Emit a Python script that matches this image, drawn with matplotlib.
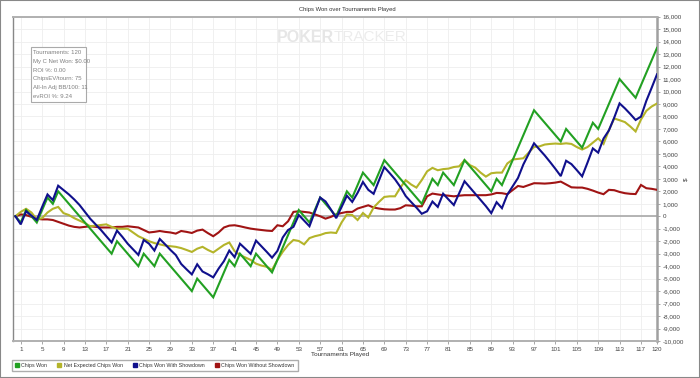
import matplotlib.pyplot as plt
from matplotlib.lines import Line2D
from matplotlib.patches import Rectangle
from matplotlib.ticker import FuncFormatter

# tournament index (0 = starting point)
tournaments = list(range(0, 121))

chips_won = [
    0, -500, 500, 0, -500, 500, 1500, 1000, 2000, 1500,
    1000, 500, 0, -500, -1000, -1500, -2000, -2500, -3000, -2000,
    -2500, -3000, -3500, -4000, -3000, -3500, -4000, -3000, -3500, -4000,
    -4500, -5000, -5500, -6000, -5000, -5500, -6000, -6500, -5500, -4500,
    -3500, -4000, -3000, -3500, -4000, -3000, -3500, -4000, -4500, -3500,
    -2500, -1500, -500, 500, 0, -500, 500, 1500, 1000, 500,
    0, 1000, 2000, 1500, 2500, 3500, 3000, 2500, 3500, 4500,
    4000, 3500, 3000, 2500, 2000, 1500, 1000, 2000, 3000, 2500,
    3500, 3000, 2500, 3500, 4500, 4000, 3500, 3000, 2500, 2000,
    3000, 2500, 3500, 4500, 5500, 6500, 7500, 8500, 8000, 7500,
    7000, 6500, 6000, 7000, 6500, 6000, 5500, 6500, 7500, 7000,
    8000, 9000, 10000, 11000, 10500, 10000, 9500, 10500, 11500, 12500,
    13500,
]

net_expected = [
    0, 350, 600, 300, -250, -150, 300, 600, 750, 250,
    100, -150, -350, -550, -800, -750, -700, -650, -850, -1000,
    -1000, -1000, -1300, -1600, -1800, -2000, -2150, -2250, -2350, -2400,
    -2450, -2550, -2700, -2860, -2600, -2450, -2700, -2900, -2600, -2300,
    -2100, -2800, -3100, -3300, -3500, -3800, -3950, -4050, -4300, -3500,
    -2850, -2300, -1900, -1980, -2250, -1750, -1600, -1500, -1350, -1300,
    -1340, -500, 150, 100, -300, 260, -100, 700, 1150, 1550,
    1600, 1600, 2300, 2890, 2550, 2300, 2900, 3600, 3880, 3690,
    3780, 3820, 3950, 4000, 4500, 4100, 3900, 3500, 3180, 3450,
    3500, 3500, 4230, 4550, 4600, 4650, 5100, 5560, 5600, 5750,
    5800, 5830, 5800, 5850, 5800, 5550, 5350, 5550, 5900, 6250,
    5800, 6900, 7840, 7700, 7550, 7200, 6800, 7750, 8450, 8800,
    9040,
]

with_showdown = [
    0, -650, 400, 50, -300, 750, 1750, 1300, 2450, 2100,
    1750, 1350, 900, 350, -200, -650, -1100, -1600, -2100, -1150,
    -1650, -2200, -2650, -3100, -1900, -2200, -2750, -1820, -2250, -2700,
    -3110, -3820, -4250, -4660, -3850, -4430, -4650, -4900, -4200, -3600,
    -2750, -3280, -2200, -2600, -3010, -1950, -2400, -2850, -3320, -2780,
    -1700, -1100, -850, 100, -350, -800, 350, 1500, 1190, 550,
    -150, 740, 1650, 1150, 1880, 2750, 2120, 1800, 2880, 3940,
    3460, 2960, 2350, 1620, 1150, 700, 200, 400, 1180, 750,
    1810, 1350, 900, 1850, 2810, 2310, 1810, 1310, 810, 250,
    1130, 650, 1730, 2400, 3070, 4150, 5000, 5850, 5360, 4880,
    4350, 3800, 3220, 4450, 4180, 3700, 3200, 4300, 5440, 5100,
    6230, 6880, 7910, 9050, 8650, 8200, 7720, 7990, 9250, 10300,
    11380,
]

without_showdown = [
    0, 150, 100, -50, -200, -250, -250, -300, -450, -600,
    -750, -850, -900, -850, -800, -850, -900, -900, -900, -850,
    -850, -800, -850, -900, -1100, -1300, -1250, -1180, -1250, -1300,
    -1390, -1180, -1250, -1340, -1150, -1070, -1350, -1600, -1300, -900,
    -750, -720, -800, -900, -990, -1050, -1100, -1150, -1180, -720,
    -800, -400, 350, 400, 350, 300, 150, 0, -190, -50,
    150, 260, 350, 350, 620, 750, 880, 700, 620, 560,
    540, 540, 650, 880, 850, 800, 800, 1600, 1820, 1750,
    1690, 1650, 1600, 1650, 1690, 1690, 1690, 1690, 1690, 1750,
    1870, 1850, 1770, 2100, 2430, 2350, 2500, 2650, 2640, 2620,
    2650, 2700, 2780, 2550, 2320, 2300, 2300, 2200, 2060, 1900,
    1770, 2120, 2090, 1950, 1850, 1800, 1780, 2510, 2250, 2200,
    2120,
]

series_names = ['Chips Won', 'Net Expected Chips Won',
                'Chips Won With Showdown', 'Chips Won Without Showdown']
series_colors = ['#22a022', '#b4b42a', '#10108c', '#a01414']

x_ticks = list(range(1, 118, 4)) + [120]
y_ticks = list(range(-10000, 16001, 1000))

stats_lines = ['Tournaments: 120', 'My C Net Won: $0.00', 'ROI %: 0.00',
               'ChipsEV/tourn: 75', 'All-In Adj BB/100: 11', 'evROI %: 9.24']

plt.rcParams['font.family'] = ['Liberation Sans', 'DejaVu Sans']
narrow = ['Liberation Sans Narrow', 'Liberation Sans', 'DejaVu Sans']

W, H = 700, 378
fig = plt.figure(figsize=(W / 100, H / 100), dpi=100)
ax = fig.add_axes([13 / W, 1 - 341 / H, (657 - 13) / W, (341 - 16.7) / H])

all_series = [chips_won, net_expected, with_showdown, without_showdown]
# draw order: red and olive under the green/blue pair
for idx in [3, 1, 0, 2]:
    ax.plot(tournaments, all_series[idx], color=series_colors[idx], lw=1.5,
            solid_joinstyle='miter', zorder=3)

ax.axhline(0, color='#a8a8a8', lw=1.2, zorder=2)

ax.set_xlim(-0.45, 120.0)
ax.set_ylim(-10000, 16000)
ax.set_xticks(x_ticks)
ax.set_yticks(y_ticks)
ax.yaxis.tick_right()
ax.yaxis.set_major_formatter(FuncFormatter(lambda v, p: f'{int(v):,}'))
ax.grid(True, color='#eeeeee', lw=0.6)
ax.set_axisbelow(True)
ax.tick_params(labelsize=4.5, labelcolor='#444444', color='#999999',
               length=2.5, width=0.6, pad=1.5)

ax.spines['left'].set_color('#888888')
ax.spines['left'].set_linewidth(1.0)
ax.spines['right'].set_color('#a0a0a0')
ax.spines['right'].set_linewidth(1.8)
ax.spines['top'].set_color('#b0b0b0')
ax.spines['top'].set_linewidth(1.4)
ax.spines['bottom'].set_color('#b0b0b0')
ax.spines['bottom'].set_linewidth(1.4)

# titles / labels
fig.text(347 / W, 1 - 9.5 / H, 'Chips Won over Tournaments Played',
         ha='center', va='center', fontsize=4.2, color='#333333', family=narrow)
fig.text(340 / W, 1 - 354.5 / H, 'Tournaments Played',
         ha='center', va='center', fontsize=4.6, color='#333333')
fig.text(686 / W, 1 - 179 / H, '$', ha='center', va='center',
         fontsize=4.6, color='#333333', rotation=90)

# watermark
fig.text(334 / W, 1 - 37 / H, 'POKER', ha='right', va='center',
         fontsize=11.5, weight='bold', color='#e6e6e6')
fig.text(334 / W, 1 - 37 / H, 'TRACKER', ha='left', va='center',
         fontsize=11.0, color='#ececec', family=narrow)

# stats box
fig.patches.append(Rectangle((30.7 / W, 1 - 101.7 / H), 55 / W, 54.4 / H,
                             transform=fig.transFigure, fill=True,
                             facecolor='white', edgecolor='#aaaaaa', lw=0.8,
                             zorder=5))
for i, line in enumerate(stats_lines):
    fig.text(33 / W, 1 - (52.7 + i * 8.7) / H, line, ha='left', va='center',
             fontsize=4.3, color='#808080', zorder=6, family=narrow)

# legend
handles = [Line2D([], [], marker='s', ls='none', color=c, markersize=3)
           for c in series_colors]
fig.legend(handles, series_names, loc='lower left',
           bbox_to_anchor=(12.3 / W, 1 - 371 / H), borderaxespad=0, ncol=4,
           prop={'family': narrow, 'size': 3.8},
           frameon=True, fancybox=False, edgecolor='#999999',
           handlelength=0.6, handletextpad=0.5, columnspacing=2.0,
           borderpad=0.6, labelcolor='#333333')

# outer frame
fig.patches.append(Rectangle((0, 0), 1, 1, transform=fig.transFigure,
                             fill=False, edgecolor='#888888', lw=1.5))

fig.savefig('out.png', dpi=100)
